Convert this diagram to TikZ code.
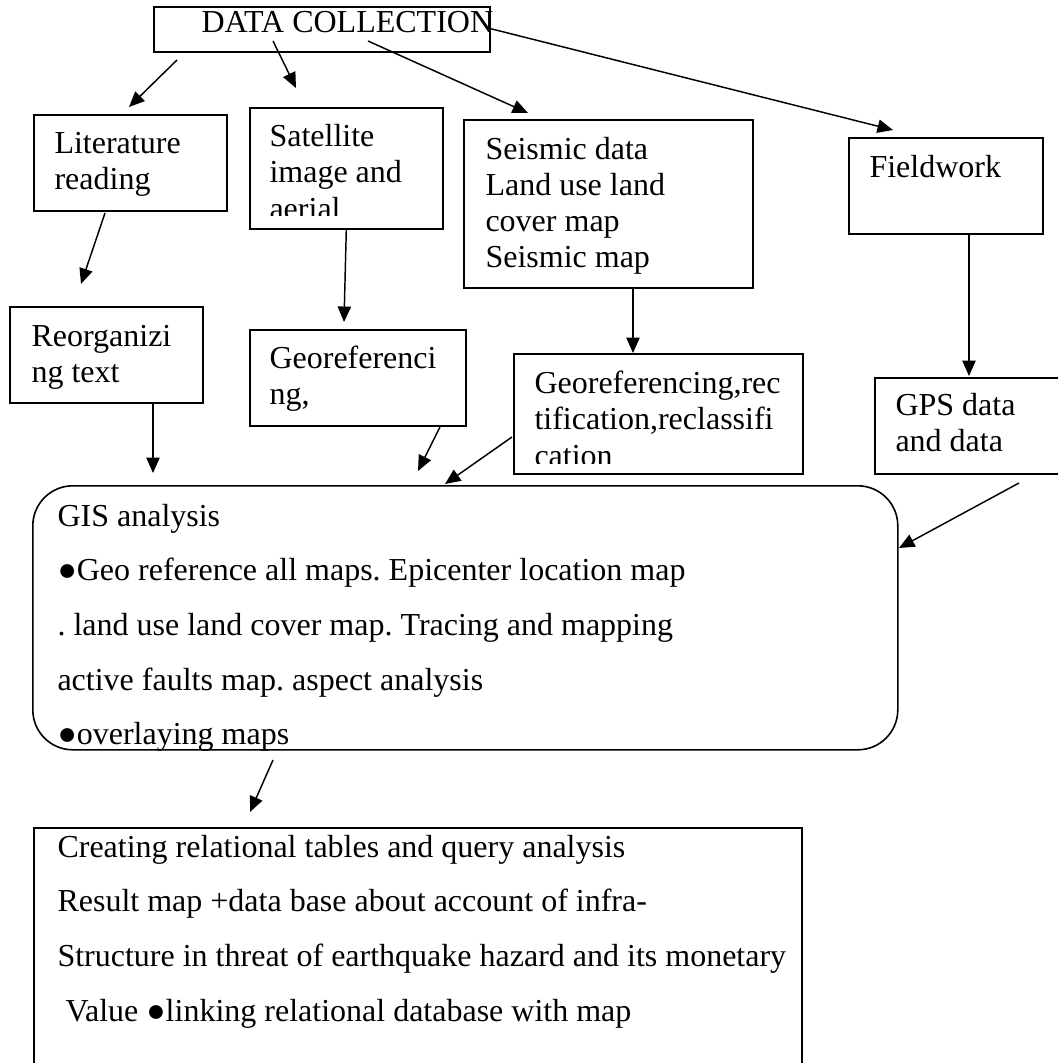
\documentclass[tikz,border=0pt]{standalone}
\usepackage{fontspec}
\setmainfont{Liberation Serif}
\usetikzlibrary{arrows.meta}
\frenchspacing

\begin{document}
\begin{tikzpicture}[x=0.375pt,y=-0.375pt,
  box/.style 2 args={draw,rectangle,anchor=north west,inner sep=0pt,line width=0.6pt,
    minimum width=#1*0.375pt,minimum height=#2*0.375pt},
  txt/.style={anchor=base west,inner sep=0pt,align=flush left,text width=#1*0.375pt,
    font=\fontsize{12}{13.8}\selectfont},
  txtwide/.style={txt=#1,font=\fontsize{12}{20.5}\selectfont},
  arr/.style={-{Triangle[length=5.8pt,width=5pt]},line width=0.55pt}
  ]
\useasboundingbox (0,0) rectangle (1058,1063);
% boxes
\node[box={336}{45}] (dc) at (153,6) {};
\node[box={193}{96}] (lit) at (33,114) {};
\node[box={193}{121}] (sat) at (249,107) {};
\node[box={289}{168}] (seis) at (463,119) {};
\node[box={194}{96}] (field) at (848,137) {};
\node[box={193}{96}] (reorg) at (9,306) {};
\node[box={216}{96}] (geo) at (249,329) {};
\node[box={289}{120}] (georect) at (513,353) {};
\node[box={200}{96}] (gps) at (874,377) {};
\node[box={865}{264},rounded corners=15pt] (gis) at (32,485) {};
\node[box={768}{250}] (res) at (33,827) {};
% texts
\node[txt=320] (dctx) at (201,32) {DATA COLLECTION};
\node[txt=170] (littx) at (54,153) {Literature\\reading};
\begin{scope}
\clip (249,107) rectangle (442,215);
\node[txt=170] (sattx) at (269,146) {Satellite\\image and\\aerial};
\end{scope}
\node[txt=260,font=\fontsize{12}{13.5}\selectfont] (seistx) at (485,159)
  {Seismic data\\Land use land\\cover map\\Seismic map};
\node[txt=170] (fieldtx) at (869,177) {Fieldwork};
\node[txt=170] (reorgtx) at (31,346) {Reorganizi\\ng text};
\node[txt=190] (geotx) at (269,368) {Georeferenci\\ng,};
\begin{scope}
\clip (513,353) rectangle (802,463);
\node[txt=265] (georecttx) at (534,393)
  {Georeferencing,rec\\tification,reclassifi\\cation};
\end{scope}
\node[txt=160] (gpstx) at (895,415) {GPS data\\and data};
\node[txtwide=830] (gistx) at (57,526)
  {GIS analysis\\
   ●Geo reference all maps. Epicenter location map\\
   . land use land cover map. Tracing and mapping\\
   active faults map. aspect analysis\\
   ●overlaying maps};
\node[txtwide=900] (restx) at (57,857)
  {Creating relational tables and query analysis\\
   Result map +data base about account of infra-\\
   Structure in threat of earthquake hazard and its monetary\\
   \hspace*{3pt}Value ●linking relational database with map};
% arrow ends
\coordinate (s1) at (177,60);  \coordinate (e1) at (129,107);
\coordinate (s2) at (273,41);  \coordinate (e2) at (296,88);
\coordinate (s3) at (368,41);  \coordinate (e3) at (528,113);
\coordinate (s4) at (488,28);  \coordinate (e4) at (893,130);
\coordinate (s5) at (105,213); \coordinate (e5) at (81,284);
\coordinate (e6) at (344,322);
\coordinate (s7) at (633,287); \coordinate (e7) at (633,353);
\coordinate (s8) at (969,233); \coordinate (e8) at (969,376);
\coordinate (s9) at (153,402); \coordinate (e9) at (153,473);
\coordinate (s10) at (440,427); \coordinate (e10) at (418,471);
\coordinate (s11) at (512,437); \coordinate (e11) at (445,484);
\coordinate (s12) at (1019,483); \coordinate (e12) at (899,548);
\coordinate (s13) at (273,760); \coordinate (e13) at (250,812);
% arrows
\draw[arr] (s1) -- (e1);
\draw[arr] (s2) -- (e2);
\draw[arr] (s3) -- (e3);
\draw[arr] (s4) -- (e4);
\draw[arr] (s5) -- (e5);
\draw[arr] (sat.south) -- (e6);
\draw[arr] (s7) -- (e7);
\draw[arr] (s8) -- (e8);
\draw[arr] (s9) -- (e9);
\draw[arr] (s10) -- (e10);
\draw[arr] (s11) -- (e11);
\draw[arr] (s12) -- (e12);
\draw[arr] (s13) -- (e13);
\end{tikzpicture}
\end{document}
